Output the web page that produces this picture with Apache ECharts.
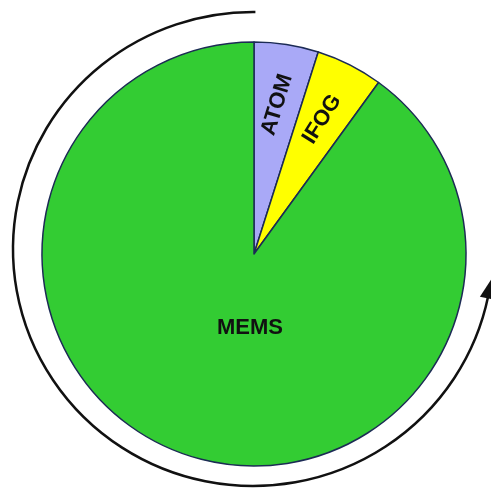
<!DOCTYPE html>
<html>
<head>
<meta charset="utf-8">
<script src="https://cdn.jsdelivr.net/npm/echarts@6/dist/echarts.min.js"></script>
<style>
  html, body { margin: 0; padding: 0; background: #fff; }
  #chart { width: 491px; height: 493px; }
</style>
</head>
<body>
<div id="chart"></div>
<script>
var categories = ["ATOM", "IFOG", "MEMS"];
var values = [4.9, 5.1, 90];
var colors = ["#a9a9f7", "#ffff00", "#33cc33"];

var chart = echarts.init(document.getElementById("chart"));

// outer arrow arc (decoration), slightly flattened
var acx = 253, acy = 249, arx = 240, ary = 237;
var tipA = 0.13, baseA = 0.21;
function pt(a, dr) { return [acx + (arx + dr) * Math.cos(a), acy + (ary + dr) * Math.sin(a)]; }

var pieData = categories.map(function (c, i) {
  return { name: c, value: values[i], itemStyle: { color: colors[i] } };
});

var option = {
  backgroundColor: "#fff",
  animation: false,
  graphic: [
    {
      type: "arc",
      x: acx, y: acy,
      scaleY: ary / arx,
      shape: { cx: 0, cy: 0, r: arx, startAngle: baseA - 0.01, endAngle: Math.PI * 1.5 + 0.01, clockwise: true },
      style: { stroke: "#111", lineWidth: 2.5, fill: null, strokeNoScale: true }
    },
    {
      type: "polygon",
      shape: { points: [pt(tipA, 0), pt(baseA, -8), pt(baseA, 8)] },
      style: { fill: "#111" }
    }
  ],
  series: [
    {
      type: "pie",
      center: [254, 254],
      radius: [0, 212],
      startAngle: 90,
      clockwise: true,
      silent: true,
      avoidLabelOverlap: false,
      itemStyle: { borderColor: "#1c2b55", borderWidth: 1.5 },
      labelLine: { show: false },
      label: { show: false },
      data: pieData.map(function (d) {
        if (d.name === "MEMS") {
          return Object.assign({}, d, {
            label: {
              show: true, position: "center", offset: [-4, 74],
              fontFamily: "Liberation Sans", fontWeight: "bold", fontSize: 22, color: "#111"
            }
          });
        }
        return d;
      })
    },
    {
      // label layer for the two narrow slices
      type: "pie",
      center: [254, 254],
      radius: [84, 212],
      startAngle: 90,
      clockwise: true,
      silent: true,
      avoidLabelOverlap: false,
      itemStyle: { color: "rgba(0,0,0,0)", borderWidth: 0 },
      labelLine: { show: false },
      label: {
        show: true, position: "inside",
        fontFamily: "Liberation Sans", fontWeight: "bold", fontSize: 22, color: "#111"
      },
      data: categories.map(function (c, i) {
        var lab = { show: c !== "MEMS" };
        if (c === "ATOM") lab.rotate = 73;
        if (c === "IFOG") lab.rotate = 58;
        return { name: c, value: values[i], label: lab };
      })
    }
  ]
};

chart.setOption(option);
</script>
</body>
</html>
